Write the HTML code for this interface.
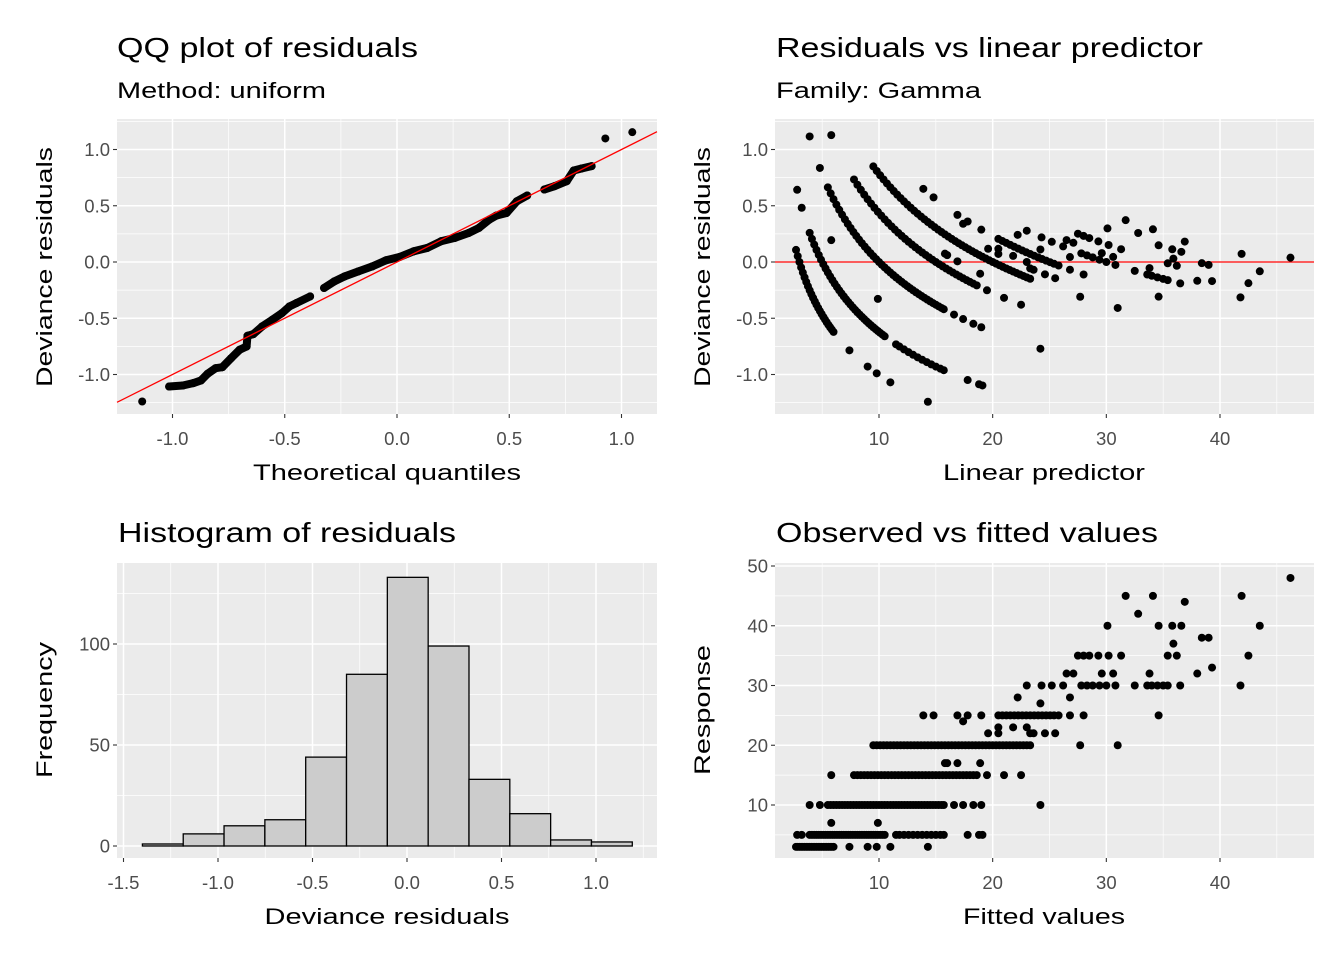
<!DOCTYPE html>
<html><head><meta charset="utf-8"><style>
html,body{margin:0;padding:0;background:#fff;}
svg{display:block;font-family:"Liberation Sans",Arial,sans-serif;}
</style></head><body>
<svg id="fig" width="1344" height="960" viewBox="0 0 1344 960" xmlns="http://www.w3.org/2000/svg"></svg>
<script>
// ---------- data ----------
const qqTheoretical = [-1.135,-1.015,-0.954,-0.908,-0.873,-0.844,-0.808,-0.778,-0.739,-0.701,-0.670,-0.666,-0.640,-0.601,-0.555,-0.512,-0.479,-0.448,-0.387,-0.325,-0.279,-0.233,-0.172,-0.110,-0.049,0.012,0.074,0.135,0.196,0.258,0.319,0.365,0.411,0.442,0.488,0.534,0.580,0.656,0.702,0.756,0.787,0.822,0.867,0.928,1.048];
const qqResidual = [-1.240,-1.107,-1.098,-1.077,-1.053,-0.994,-0.944,-0.935,-0.855,-0.780,-0.751,-0.656,-0.641,-0.573,-0.513,-0.454,-0.395,-0.365,-0.306,-0.231,-0.172,-0.128,-0.083,-0.039,0.015,0.045,0.095,0.125,0.184,0.214,0.258,0.303,0.377,0.412,0.436,0.540,0.591,0.644,0.674,0.718,0.813,0.831,0.852,1.098,1.154];
const qqLineIntercept = 0.0;
const qqLineSlope = 1.0;

const histBinStart = -1.40;
const histBinWidth = 0.216;
const histCounts = [1,6,10,13,44,85,133,99,33,16,3,2];

const observedLevels = [3,5,7,10,15,17,20,22,23,24,25,27,28,30,32,33,35,37,38,40,42,44,45,48];
const fittedByLevel = [
 [2.7,2.85,3.0,3.15,3.3,3.45,3.6,3.75,3.9,4.05,4.2,4.35,4.5,4.65,4.8,4.95,5.1,5.25,5.4,5.55,5.7,5.85,6.0,7.4,9.0,9.8,11.0,14.3],
 [2.8,3.2,3.9,4.1,4.3,4.5,4.7,4.9,5.1,5.3,5.5,5.7,5.9,6.1,6.3,6.5,6.7,6.9,7.1,7.3,7.5,7.7,7.9,8.1,8.3,8.5,8.7,8.9,9.1,9.3,9.5,9.7,9.9,10.1,10.3,10.5,11.5,11.8,12.2,12.6,13.0,13.4,13.8,14.2,14.6,15.0,15.4,15.7,17.8,18.8,19.1],
 [5.8,9.9],
 [3.9,4.8,5.5,5.75,6.0,6.25,6.5,6.75,7.0,7.25,7.5,7.75,8.0,8.25,8.5,8.75,9.0,9.25,9.5,9.75,10.0,10.25,10.5,10.75,11.0,11.25,11.5,11.75,12.0,12.25,12.5,12.75,13.0,13.25,13.5,13.75,14.0,14.25,14.5,14.75,15.0,15.25,15.5,15.7,16.6,17.4,18.3,19.0,24.2],
 [5.8,7.8,8.1,8.4,8.7,9.0,9.3,9.6,9.9,10.2,10.5,10.8,11.1,11.4,11.7,12.0,12.3,12.6,12.9,13.2,13.5,13.8,14.1,14.4,14.7,15.0,15.3,15.6,15.9,16.2,16.5,16.8,17.1,17.4,17.7,18.0,18.3,18.6,19.5,21.0,22.5],
 [15.8,16.0,16.9,18.9],
 [9.5,9.8,10.1,10.4,10.7,11.0,11.3,11.6,11.9,12.2,12.5,12.8,13.1,13.4,13.7,14.0,14.3,14.6,14.9,15.2,15.5,15.8,16.1,16.4,16.7,17.0,17.3,17.6,17.9,18.2,18.5,18.8,19.1,19.4,19.7,20.0,20.3,20.6,20.9,21.2,21.5,21.8,22.1,22.4,22.7,23.0,23.3,27.7,31.0],
 [19.6,20.5,23.3,23.6,24.6,25.5],
 [20.5,21.8,23.0],
 [17.4],
 [13.9,14.8,16.9,17.8,19.0,20.5,20.85,21.2,21.55,21.9,22.25,22.6,22.95,23.3,23.65,24.0,24.35,24.7,25.05,25.4,25.8,26.8,28.0,34.6],
 [24.2],
 [22.2,26.8],
 [23.0,24.3,25.2,26.2,27.8,28.3,28.8,29.4,30.0,30.8,32.5,33.6,34.0,34.5,35.0,35.4,36.5,41.8],
 [26.5,27.1,29.6,30.6,33.8,38.0],
 [39.3],
 [27.5,28.0,28.5,29.3,30.2,31.3,35.4,36.2,42.5],
 [35.9],
 [38.4,39.0],
 [30.1,34.6,35.8,36.6,43.5],
 [32.8],
 [36.9],
 [31.7,34.1,41.9],
 [46.2]
];

const qqXTicks = [-1.0,-0.5,0.0,0.5,1.0];
const qqXTickLabels = ["-1.0","-0.5","0.0","0.5","1.0"];
const residTicks = [-1.0,-0.5,0.0,0.5,1.0];
const residTickLabels = ["-1.0","-0.5","0.0","0.5","1.0"];
const fitTicks = [10,20,30,40];
const fitTickLabels = ["10","20","30","40"];
const histXTicks = [-1.5,-1.0,-0.5,0.0,0.5,1.0];
const histXTickLabels = ["-1.5","-1.0","-0.5","0.0","0.5","1.0"];
const histYTicks = [0,50,100];
const histYTickLabels = ["0","50","100"];
const respTicks = [10,20,30,40,50];
const respTickLabels = ["10","20","30","40","50"];

// ---------- helpers ----------
const NS = "http://www.w3.org/2000/svg";
const fig = document.getElementById("fig");
const PR = 4.0;
function mk(tag, attrs, parent){
  const e = document.createElementNS(NS, tag);
  for (const k in attrs) e.setAttribute(k, attrs[k]);
  (parent||fig).appendChild(e);
  return e;
}
function devResid(y, mu){
  const d = 2*(-Math.log(y/mu) + (y-mu)/mu);
  return Math.sign(y-mu)*Math.sqrt(Math.max(d,0));
}
function linScale(d0,d1,r0,r1){ return v => r0 + (v-d0)*(r1-r0)/(d1-d0); }

function panel(name, x0, y0, x1, y1, sx, sy, xMaj, xMin, yMaj, yMin){
  const g = mk("g", {});
  
  
  const bg = mk("rect", {x:x0, y:y0, width:x1-x0, height:y1-y0, fill:"#EBEBEB"}, g);
  
  
  xMin.forEach(v=>{ const p=sx(v); if(p>x0&&p<x1) mk("line",{x1:p,x2:p,y1:y0,y2:y1,stroke:"#fff","stroke-width":0.7},g); });
  yMin.forEach(v=>{ const p=sy(v); if(p>y0&&p<y1) mk("line",{x1:x0,x2:x1,y1:p,y2:p,stroke:"#fff","stroke-width":0.7},g); });
  xMaj.forEach(v=>{ const p=sx(v); mk("line",{x1:p,x2:p,y1:y0,y2:y1,stroke:"#fff","stroke-width":1.5},g); });
  yMaj.forEach(v=>{ const p=sy(v); mk("line",{x1:x0,x2:x1,y1:p,y2:p,stroke:"#fff","stroke-width":1.5},g); });
  return g;
}
function xAxis(name, sx, ticks, labels, y1){
  const g = mk("g", {});
  
  
  ticks.forEach((v,i)=>{
    const p = sx(v);
    mk("line",{x1:p,x2:p,y1:y1,y2:y1+4,stroke:"#333","stroke-width":1.1},g);
    const t = mk("text",{x:p,y:y1+31,"text-anchor":"middle","font-size":18.5,fill:"#4D4D4D"},g);
    t.textContent = labels[i];
  });
}
function yAxis(name, sy, ticks, labels, x0){
  const g = mk("g", {});
  
  
  ticks.forEach((v,i)=>{
    const p = sy(v);
    mk("line",{x1:x0-4,x2:x0,y1:p,y2:p,stroke:"#333","stroke-width":1.1},g);
    const t = mk("text",{x:x0-7,y:p+6.5,"text-anchor":"end","font-size":18.5,fill:"#4D4D4D"},g);
    t.textContent = labels[i];
  });
}
function txt(name, s, x, y, size, len, anchor, rot){
  const a = {x:x,y:y,"font-size":size,fill:"#000","text-anchor":anchor||"start",textLength:len,lengthAdjust:"spacingAndGlyphs"};
  if (rot) a.transform = "rotate(-90 "+x+" "+y+")";
  const t = mk("text", a);
  
  
  t.textContent = s;
  return t;
}

// ---------- Panel 1: QQ ----------
const q1x = linScale(0,1,397,621.5), q1y = linScale(0,1,262,149.5);
panel("qq-panel",117,119,657,414,q1x,q1y,qqXTicks,[-1.25,-0.75,-0.25,0.25,0.75],residTicks,[-1.25,-0.75,-0.25,0.25,0.75,1.25]);
const qqg = mk("g",{});


for (let i=0;i<qqTheoretical.length;i++){
  const px=q1x(qqTheoretical[i]), py=q1y(qqResidual[i]);
  if (i>0){
    const ppx=q1x(qqTheoretical[i-1]), ppy=q1y(qqResidual[i-1]);
    if (Math.hypot(px-ppx,py-ppy)<16) mk("line",{x1:ppx,y1:ppy,x2:px,y2:py,stroke:"#000","stroke-width":PR*2,"stroke-linecap":"round"},qqg);
  }
  const c = mk("circle",{cx:px,cy:py,r:PR,fill:"#000"},qqg);
  
  
}
const qqLine = mk("line",{x1:117,y1:q1y(qqLineIntercept+qqLineSlope*((117-397)/224.5)),x2:657,y2:q1y(qqLineIntercept+qqLineSlope*((657-397)/224.5)),stroke:"#FF0000","stroke-width":1.3});


xAxis("qq-x-axis", q1x, qqXTicks, qqXTickLabels, 414);
yAxis("qq-y-axis", q1y, residTicks, residTickLabels, 117);
txt("qq-title","QQ plot of residuals",117,57,28,301);
txt("qq-subtitle","Method: uniform",117,98,22,209);
txt("qq-x-title","Theoretical quantiles",387,480,22,268,"middle");
txt("qq-y-title","Deviance residuals",52,267,22,240,"middle",true);

// ---------- Panel 2: residuals vs linear predictor ----------
const p2x = linScale(10,40,879,1220), p2y = q1y;
panel("resid-vs-lp-panel",775,119,1314,414,p2x,p2y,fitTicks,[5,15,25,35,45],residTicks,[-1.25,-0.75,-0.25,0.25,0.75,1.25]);
const rzero = mk("line",{x1:775,x2:1314,y1:p2y(0),y2:p2y(0),stroke:"#FF0000","stroke-width":1.3});


const p2g = mk("g",{});


const p4x = p2x, p4y = linScale(10,50,805,566);
observedLevels.forEach((obs,li)=>{
  fittedByLevel[li].forEach(mu=>{
    const c = mk("circle",{cx:p2x(mu),cy:p2y(devResid(obs,mu)),r:PR,fill:"#000"},p2g);
    
    
  });
});
xAxis("lp-x-axis", p2x, fitTicks, fitTickLabels, 414);
yAxis("lp-y-axis", p2y, residTicks, residTickLabels, 775);
txt("lp-title","Residuals vs linear predictor",776,57,28,427);
txt("lp-subtitle","Family: Gamma",776,98,22,205);
txt("lp-x-title","Linear predictor",1044,480,22,202,"middle");
txt("lp-y-title","Deviance residuals",710,267,22,240,"middle",true);

// ---------- Panel 3: histogram ----------
const p3x = linScale(0,1,407,596), p3y = linScale(0,100,846,644);
panel("histogram-panel",117,563,657,858,p3x,p3y,histXTicks,[-1.25,-0.75,-0.25,0.25,0.75,1.25],histYTicks,[25,75,125]);
const hg = mk("g",{});


histCounts.forEach((c,i)=>{
  const l = histBinStart + i*histBinWidth;
  const xa = p3x(l), xb = p3x(l+histBinWidth);
  const r = mk("rect",{x:xa,y:p3y(c),width:xb-xa,height:p3y(0)-p3y(c),fill:"#CCCCCC",stroke:"#000","stroke-width":1.3},hg);
  
  
});
xAxis("hist-x-axis", p3x, histXTicks, histXTickLabels, 858);
yAxis("hist-y-axis", p3y, histYTicks, histYTickLabels, 117);
txt("hist-title","Histogram of residuals",118,542,28,338);
txt("hist-x-title","Deviance residuals",387,924,22,245,"middle");
txt("hist-y-title","Frequency",52,710,22,136,"middle",true);

// ---------- Panel 4: observed vs fitted ----------
panel("obs-vs-fitted-panel",775,563,1314,858,p4x,p4y,fitTicks,[5,15,25,35,45],respTicks,[5,15,25,35,45]);
const p4g = mk("g",{});


observedLevels.forEach((obs,li)=>{
  fittedByLevel[li].forEach(mu=>{
    const c = mk("circle",{cx:p4x(mu),cy:p4y(obs),r:PR,fill:"#000"},p4g);
    
    
  });
});
xAxis("fitted-x-axis", p4x, fitTicks, fitTickLabels, 858);
yAxis("response-y-axis", p4y, respTicks, respTickLabels, 775);
txt("obs-fitted-title","Observed vs fitted values",776,542,28,382);
txt("fitted-x-title","Fitted values",1044,924,22,162,"middle");
txt("response-y-title","Response",710,710,22,130,"middle",true);
</script>
</body></html>
